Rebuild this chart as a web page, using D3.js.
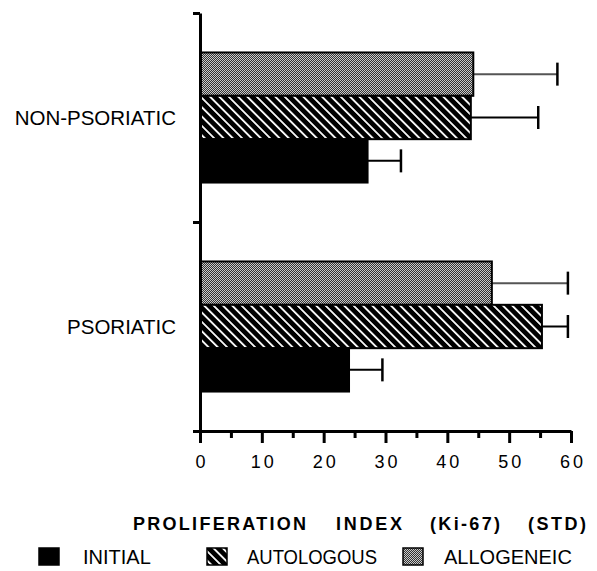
<!DOCTYPE html>
<html>
<head>
<meta charset="utf-8">
<script src="https://cdn.jsdelivr.net/npm/d3@7"></script>
<style>
  html, body { margin: 0; padding: 0; background: #fff; }
  svg { display: block; }
  text { font-family: "Liberation Sans", Arial, Helvetica, sans-serif; fill: #000; }
</style>
</head>
<body>
<div id="chart"></div>
<script>
// ---- data ----
const categories = ["NON-PSORIATIC", "PSORIATIC"];
const seriesOrder = ["ALLOGENEIC", "AUTOLOGOUS", "INITIAL"]; // top to bottom within group
const legendOrder = ["INITIAL", "AUTOLOGOUS", "ALLOGENEIC"];
const initialValues = [27.1, 24.1];
const initialErrors = [5.4, 5.4];
const autologousValues = [43.8, 55.3];
const autologousErrors = [10.9, 4.2];
const allogeneicValues = [44.2, 47.2];
const allogeneicErrors = [13.6, 12.3];
const xTickValues = [0, 5, 10, 15, 20, 25, 30, 35, 40, 45, 50, 55, 60];
const xLabelValues = [0, 10, 20, 30, 40, 50, 60];
const titleWords = ["PROLIFERATION", "INDEX", "(Ki-67)", "(STD)"];

const seriesData = {
  INITIAL: { values: initialValues, errors: initialErrors },
  AUTOLOGOUS: { values: autologousValues, errors: autologousErrors },
  ALLOGENEIC: { values: allogeneicValues, errors: allogeneicErrors }
};

const W = 597, H = 571;
const svg = d3.select("#chart").append("svg").attr("width", W).attr("height", H);

// patterns
const defs = svg.append("defs");
const pAllo = defs.append("pattern").attr("id", "pat-allo")
  .attr("patternUnits", "userSpaceOnUse").attr("width", 2).attr("height", 2);
pAllo.append("rect").attr("x", 0).attr("y", 0).attr("width", 1).attr("height", 1).attr("fill", "#cacaca");
pAllo.append("rect").attr("x", 1).attr("y", 0).attr("width", 1).attr("height", 1).attr("fill", "#333333");
pAllo.append("rect").attr("x", 0).attr("y", 1).attr("width", 1).attr("height", 1).attr("fill", "#333333");
pAllo.append("rect").attr("x", 1).attr("y", 1).attr("width", 1).attr("height", 1).attr("fill", "#cacaca");

const pAuto = defs.append("pattern").attr("id", "pat-auto")
  .attr("patternUnits", "userSpaceOnUse").attr("width", 6.6).attr("height", 6.6)
  .attr("patternTransform", "rotate(-45)");
pAuto.append("rect").attr("width", 6.6).attr("height", 6.6).attr("fill", "#000");
pAuto.append("rect").attr("x", 0).attr("y", 0).attr("width", 1.8).attr("height", 6.6).attr("fill", "#fff");

const fills = { INITIAL: "#000", AUTOLOGOUS: "url(#pat-auto)", ALLOGENEIC: "url(#pat-allo)" };

// scales
const x = d3.scaleLinear().domain([0, 60]).range([200, 571]);
const y = d3.scaleBand().domain(categories).range([13, 431]).paddingInner(0).paddingOuter(0);
const ySub = d3.scaleBand().domain(seriesOrder).range([0, y.bandwidth()]).paddingInner(0).paddingOuter(0.91);
const yEdges = d3.scaleLinear().domain([0, categories.length]).range([13, 431]);

// bars
const bars = [];
categories.forEach((c, ci) => {
  seriesOrder.forEach(s => {
    bars.push({ cat: c, series: s, value: seriesData[s].values[ci], err: seriesData[s].errors[ci] });
  });
});

const g = svg.append("g");
g.selectAll("line.err").data(bars).join("line").attr("class", "err")
  .attr("x1", d => x(d.value)).attr("x2", d => x(d.value + d.err))
  .attr("y1", d => y(d.cat) + ySub(d.series) + ySub.bandwidth() / 2)
  .attr("y2", d => y(d.cat) + ySub(d.series) + ySub.bandwidth() / 2)
  .attr("stroke", d => d.series === "ALLOGENEIC" ? "#555" : "#000")
  .attr("stroke-width", 2);
g.selectAll("line.cap").data(bars).join("line").attr("class", "cap")
  .attr("x1", d => x(d.value + d.err)).attr("x2", d => x(d.value + d.err))
  .attr("y1", d => y(d.cat) + ySub(d.series) + ySub.bandwidth() / 2 - 11.5)
  .attr("y2", d => y(d.cat) + ySub(d.series) + ySub.bandwidth() / 2 + 11.5)
  .attr("stroke", "#000").attr("stroke-width", 2.5);

g.selectAll("rect.bar").data(bars).join("rect").attr("class", "bar")
  .attr("x", x(0))
  .attr("y", d => y(d.cat) + ySub(d.series))
  .attr("width", d => x(d.value) - x(0))
  .attr("height", ySub.bandwidth())
  .attr("fill", d => fills[d.series])
  .attr("stroke", "#000").attr("stroke-width", 2);

// x axis
const xAxis = svg.append("g").attr("transform", "translate(0,431)")
  .call(d3.axisBottom(x).tickValues(xTickValues).tickSizeOuter(0)
    .tickFormat(d => xLabelValues.includes(d) ? String(d) : ""));
xAxis.select(".domain").attr("stroke", "#000").attr("stroke-width", 3);
xAxis.selectAll(".tick line").attr("stroke", "#000").attr("stroke-width", 3)
  .attr("y2", d => xLabelValues.includes(d) ? 12 : 7);
xAxis.selectAll(".tick text")
  .attr("y", 37).attr("dy", 0).attr("dx", 1.5)
  .style("font-size", "18px").style("letter-spacing", "3px")
  .style("font-family", "'Liberation Sans', Arial, sans-serif").attr("fill", "#000");

// y axis
const yAxis = svg.append("g").attr("transform", "translate(200,0)")
  .call(d3.axisLeft(yEdges).tickValues(d3.range(categories.length + 1)).tickSize(7).tickSizeOuter(0).tickFormat(""));
yAxis.select(".domain").attr("stroke", "#000").attr("stroke-width", 3);
yAxis.selectAll(".tick line").attr("stroke", "#000").attr("stroke-width", 3);

// category labels
svg.selectAll("text.cat").data(categories).join("text").attr("class", "cat")
  .attr("x", 176).attr("y", d => y(d) + y.bandwidth() / 2 + 2)
  .attr("text-anchor", "end").attr("dominant-baseline", "middle")
  .style("font-size", "20.5px").text(d => d);

// title
const titleX = [133, 336, 430, 528];
const titleW = [173, 66, 70, 58];
const title = svg.append("text").attr("y", 530)
  .style("font-size", "18px").style("font-weight", "bold");
title.selectAll("tspan").data(titleWords).join("tspan")
  .attr("x", (d, i) => titleX[i])
  .attr("textLength", (d, i) => titleW[i])
  .attr("lengthAdjust", "spacing")
  .text(d => d);

// legend
const legendSwatchX = [39, 207, 403];
const legendTextX = [83, 247, 444];
const lg = svg.append("g");
legendOrder.forEach((s, i) => {
  lg.append("rect").attr("x", legendSwatchX[i]).attr("y", 548).attr("width", 20).attr("height", 17)
    .attr("fill", fills[s]).attr("stroke", "#000").attr("stroke-width", 1.5);
  const t = lg.append("text").attr("x", legendTextX[i]).attr("y", 564)
    .style("font-size", "20px").text(s);
  if (s === "AUTOLOGOUS") t.attr("textLength", 130).attr("lengthAdjust", "spacingAndGlyphs");
});
</script>
</body>
</html>
